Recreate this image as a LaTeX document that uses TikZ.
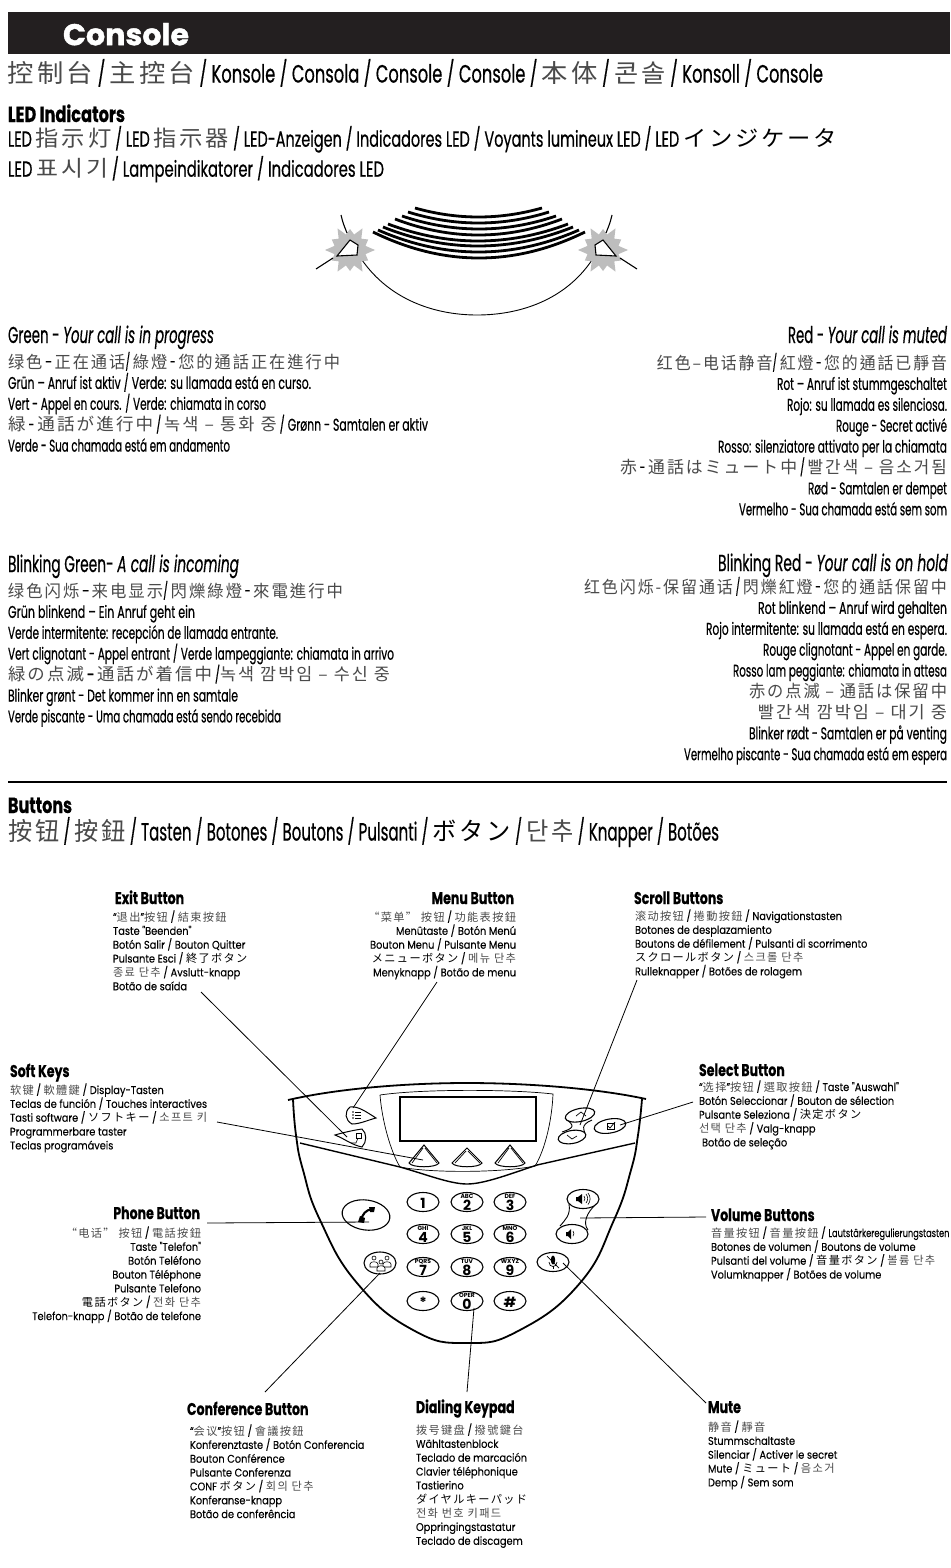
\documentclass[tikz,border=0pt]{standalone}
\usepackage{fontspec}
\usepackage{graphicx}
\usetikzlibrary{shapes.geometric}
\setmainfont{Poppins}
\newfontfamily\cond[FakeStretch=0.62,FakeBold=0.45]{Poppins}
\newfontfamily\hdf[FakeStretch=0.74,FakeBold=0.5]{Poppins}
\newfontfamily\labf[FakeStretch=0.875,FakeBold=0.12]{Poppins}
\newfontfamily\consf[FakeStretch=0.92,FakeBold=1.2]{Poppins}
\newfontfamily\zsf[LetterSpace=12]{Noto Sans CJK SC}
\newfontfamily\ztf[LetterSpace=12]{Noto Sans CJK TC}
\newfontfamily\jaf[LetterSpace=12]{Noto Sans CJK JP}
\newfontfamily\kof[LetterSpace=12]{Noto Sans CJK KR}
\definecolor{cjkgray}{HTML}{4A4A4A}
\definecolor{burst}{HTML}{BDBDBD}
\definecolor{barblack}{HTML}{231F20}
\newcommand\zs[1]{{\color{cjkgray}\zsf #1}}
\newcommand\zt[1]{{\color{cjkgray}\ztf #1}}
\newcommand\ja[1]{{\color{cjkgray}\jaf #1}}
\newcommand\jb[1]{{\jaf #1}}
\newcommand\ko[1]{{\color{cjkgray}\kof #1}}
\newcommand\fw[2]{\resizebox{#1pt}{\height}{#2}}
\newcommand\st{\rule{0pt}{20pt}}
\AtBeginDocument{\lineskiplimit=-40pt\relax}
\tikzset{
 x=1pt,y=-1pt,
 blk/.style={inner sep=0pt,outer sep=0pt,align=left,anchor=north west,yshift=20pt,text=black},
 blr/.style={blk,align=right,anchor=north east},
 big/.style={font=\cond\fontsize{17}{20.9}\selectfont},
 ttl/.style={font=\cond\fontsize{23}{26}\selectfont},
 top/.style={font=\cond\fontsize{25}{29}\selectfont},
 hd/.style={font=\hdf\bfseries\fontsize{17}{20}\selectfont},
 lab/.style={font=\labf\fontsize{11.2}{13.85}\selectfont},
 btn/.style={draw,ellipse,fill=white,line width=1.1pt,inner sep=0pt,minimum width=32pt,minimum height=19pt},
 keyt/.style={inner sep=0pt,align=center,font=\bfseries},
 conn/.style={draw,line width=0.8pt},
 body/.style={line width=1.8pt},
 thin1/.style={line width=0.7pt},
 spk/.style={line width=2.8pt},
}
\begin{document}
\begin{tikzpicture}
\useasboundingbox (0,0) rectangle (950,1568);
\fill[white] (0,0) rectangle (950,1568);
% header
\node[draw=none,fill=barblack,minimum width=942pt,minimum height=42pt,inner sep=0pt,anchor=north west] (bar) at (8,12) {};
\node[blk,text=white,font=\consf\bfseries\fontsize{30}{30}\selectfont] (cons) at (63,43) {\st\fw{126}{Console}};
\node[blk,top] (t1) at (8,79) {\st\fw{815}{\zs{控制台} / \zt{主控台} / Konsole / Consola / Console / Console / \ja{本体} / \ko{콘솔} / Konsoll / Console}};
\node[blk,font=\hdf\bfseries\fontsize{22}{24}\selectfont] (t2) at (8,122) {\st\fw{117}{LED Indicators}};
\node[blk,font=\cond\fontsize{22}{30}\selectfont] (t3) at (8,146) {\st\fw{829}{LED \zs{指示灯} / LED \zt{指示器} / LED-Anzeigen / Indicadores LED / Voyants lumineux LED / LED \jb{インジケータ}}\\
\fw{376}{LED \ko{표시기} / Lampeindikatorer / Indicadores LED}};
% LED figure
\foreach \xa/\xb/\ya/\m in {415/542/208/217,408/549/212/223,402/556/216/229,395/562/219/235,388/568/224/241,383/573/227/246,378/579/230/252,373/585/232/258}{
 \draw[spk] (\xa,\ya) .. controls ({\xa+(\xb-\xa)/3},{\ya+(\m-\ya)*4/3}) and ({\xb-(\xb-\xa)/3},{\ya+(\m-\ya)*4/3}) .. (\xb,\ya);
}
\draw[line width=0.9pt] (362,260) .. controls (390,300) and (435,315) .. (477,315) .. controls (520,315) and (565,300) .. (592,260);
\foreach \c/\s in {350/1,603/-1}{
 \begin{scope}[shift={(\c,250)}]
 \fill[burst] (0:25) \foreach \a in {1,...,23}{ -- ({\a*15}:{mod(\a,2)==1 ? 16 : ((mod(\a,4)==0) ? 25 : 21)}) } -- cycle;
 \draw[line width=1.1pt] ({\s*(-9)},-35) .. controls ({\s*(-7)},-27) .. ({\s*(-3)},-17);
 \draw[line width=1.1pt] ({\s*(-34)},19) -- ({\s*(-17)},8);
 \draw[line width=1.1pt,fill=white] ({\s*0},-10) -- ({\s*8},-5) -- ({\s*7},5) -- ({\s*(-13)},6) -- cycle;
 \end{scope}
}
% status blocks
\node[blk,ttl] (gt) at (8,343) {\st\fw{206}{Green - \itshape Your call is in progress}};
\node[blk,big] (gb) at (8,368) {\st\fw{332}{\zs{绿色} – \zs{正在通话}/ \zt{綠燈} - \zt{您的通話正在進行中}}\\
\fw{303}{Grün – Anruf ist aktiv / Verde: su llamada está en curso.}\\
\fw{258}{Vert - Appel en cours. / Verde: chiamata in corso}\\
\fw{420}{\ja{緑} - \ja{通話が進行中} / \ko{녹색 – 통화 중} / Grønn - Samtalen er aktiv}\\
\fw{222}{Verde - Sua chamada está em andamento}};
\node[blr,ttl] (rt) at (947,343) {\st\fw{159}{Red - \itshape Your call is muted}};
\node[blr,big] (rb) at (947,369) {\st\fw{290}{\zs{红色–电话静音}/ \zt{紅燈} - \zt{您的通話已靜音}}\\
\fw{170}{Rot – Anruf ist stummgeschaltet}\\
\fw{160}{Rojo: su llamada es silenciosa.}\\
\fw{111}{Rouge - Secret activé}\\
\fw{229}{Rosso: silenziatore attivato per la chiamata}\\
\fw{327}{\ja{赤} - \ja{通話はミュート中} / \ko{빨간색 – 음소거됨}}\\
\fw{139}{Rød - Samtalen er dempet}\\
\fw{208}{Vermelho - Sua chamada está sem som}};
\node[blk,ttl] (bgt) at (8,572) {\st\fw{231}{Blinking Green- \itshape A call is incoming}};
\node[blk,big] (bgb) at (8,597) {\st\fw{335}{\zs{绿色闪烁} – \zs{来电显示}/ \zt{閃爍綠燈} - \zt{來電進行中}}\\
\fw{187}{Grün blinkend – Ein Anruf geht ein}\\
\fw{270}{Verde intermitente: recepción de llamada entrante.}\\
\fw{386}{Vert clignotant - Appel entrant / Verde lampeggiante: chiamata in arrivo}\\
\fw{382}{\ja{緑の点滅} – \ja{通話が着信中} /\ko{녹색 깜박임 – 수신 중}}\\
\fw{230}{Blinker grønt - Det kommer inn en samtale}\\
\fw{273}{Verde piscante - Uma chamada está sendo recebida}};
\node[blr,ttl] (brt) at (948,571) {\st\fw{230}{Blinking Red - \itshape Your call is on hold}};
\node[blr,big] (brb) at (947,593) {\st\fw{363}{\zs{红色闪烁-保留通话} / \zt{閃爍紅燈} - \zt{您的通話保留中}}\\
\fw{189}{Rot blinkend – Anruf wird gehalten}\\
\fw{241}{Rojo intermitente: su llamada está en espera.}\\
\fw{184}{Rouge clignotant - Appel en garde.}\\
\fw{214}{Rosso lam peggiante: chiamata in attesa}\\
\fw{198}{\ja{赤の点滅 – 通話は保留中}}\\
\fw{189}{\ko{빨간색 깜박임 – 대기 중}}\\
\fw{198}{Blinker rødt - Samtalen er på venting}\\
\fw{263}{Vermelho piscante - Sua chamada está em espera}};
\coordinate (ruleL) at (8,782); \coordinate (ruleR) at (947,782);
\draw[line width=1.8pt] (ruleL) -- (ruleR);
\node[blk,font=\hdf\bfseries\fontsize{22}{24}\selectfont] (bh) at (8,813) {\st\fw{64}{Buttons}};
\node[blk,top] (bl) at (8,837) {\st\fw{711}{\zs{按钮} / \zt{按鈕} / Tasten / Botones / Boutons / Pulsanti / \jb{ボタン} / \ko{단추} / Knapper / Botões}};
% phone body
\draw[body] (288,1100) .. controls (340,1088) and (410,1083) .. (467,1083) .. controls (525,1083) and (595,1088) .. (646,1099);
\draw[body] plot[smooth,tension=0.8] coordinates {(293,1099) (296,1135) (303,1170) (320,1220) (357,1283) (413,1330) (467,1343) (520,1330) (580,1283) (614,1220) (631,1170) (638,1135) (642,1099)};
\draw[line width=1.4pt] (300,1143) -- (400,1167) .. controls (425,1174) and (450,1184) .. (467,1184) .. controls (484,1184) and (510,1174) .. (537,1165) -- (635,1143);
\draw[thin1] (380,1095) .. controls (420,1089) and (510,1089) .. (553,1094) .. controls (552,1120) and (545,1150) .. (535,1166) .. controls (500,1173) and (430,1173) .. (400,1167) .. controls (390,1150) and (382,1120) .. (380,1095);
\node[draw,line width=1.5pt,minimum width=136pt,minimum height=44pt,inner sep=0pt,anchor=north west] (screen) at (399,1096) {};
\foreach \n/\x/\d in {a/424/0,b/467/3,c/510/0}{
 \draw[line width=1pt] (\x,1145+\d) -- ({\x+15},1163) .. controls ({\x+12},1168) and ({\x-12},1168) .. ({\x-15},1163) -- cycle;
 \draw[thin1] (\x+1,1148+\d) -- ({\x+13},1163);
 \draw[thin1] (\x-1,1148+\d) -- ({\x-12},1163);
}
% menu and exit
\draw[line width=1pt,fill=white] (376,1118) .. controls (365,1111) and (358,1106) .. (350,1107) .. controls (344,1112) and (345,1120) .. (352,1124) .. controls (360,1124) and (368,1120) .. (376,1118) -- cycle;
\foreach \yy in {1112,1115,1118}{\draw[line width=0.6pt] (355,\yy) -- (361,\yy);\fill (353,\yy) circle (0.9pt);}
\draw[line width=1pt,fill=white] (335,1135) .. controls (345,1132) and (355,1130) .. (362,1129) .. controls (367,1133) and (367,1142) .. (362,1147) .. controls (352,1145) and (345,1139) .. (335,1135) -- cycle;
\draw[line width=0.6pt] (356,1133) rectangle (361,1138);
\draw[line width=0.6pt] (351,1143) -- (356,1143) -- (358,1138);
% scroll & select
\draw[line width=0.9pt] (566,1119) .. controls (575,1126) and (574,1128) .. (562,1132);
\draw[line width=0.9pt] (592,1120) .. controls (580,1125) and (584,1130) .. (585,1133);
\node[btn,minimum width=30pt,minimum height=13pt,rotate=12] (sup) at (580,1115) {};
\node[btn,minimum width=28pt,minimum height=13pt,rotate=10] (sdn) at (572,1137) {};
\draw[thin1] (576,1116) -- (581,1112) -- (586,1116);
\draw[thin1] (567,1135) -- (572,1139) -- (577,1136);
\node[btn,minimum width=32pt,minimum height=14pt,rotate=10] (sel) at (610,1126) {};
\draw[line width=0.6pt] (607,1123) rectangle (614,1129);
\draw[line width=0.7pt] (608,1126) -- (610,1128) -- (615,1122);
% keypad
\foreach \n/\x/\y/\l/\d in {2/467/1202/ABC/2,3/510/1202/DEF/3,4/423/1234/GHI/4,5/467/1234/JKL/5,6/510/1234/MNO/6,7/423/1267/PQRS/7,8/467/1267/TUV/8,9/510/1267/WXYZ/9,0/467/1301/OPER/0}{
 \node[btn] (key\n) at (\x,\y) {};
 \node[keyt] (kt\n) at (\x,\y) {{\fontsize{6}{5.5}\selectfont \l}\\{\fontsize{14}{11}\selectfont \d}};
}
\foreach \n/\x/\y/\d in {1/423/1202/1,s/423/1301/*,h/510/1301/\#}{
 \node[btn] (key\n) at (\x,\y) {};
 \node[keyt] (kt\n) at (\x,\y+1) {\fontsize{14}{14}\selectfont \d};
}
% phone button
\node[btn,minimum width=48pt,minimum height=30pt,rotate=-8] (phone) at (366,1215) {};
\draw[line width=2.1pt,line cap=round] (361,1221) .. controls (362,1214) and (366,1210) .. (372,1209);
\fill (358,1222) -- (364,1223) -- (365,1218) -- (360,1216) -- cycle;
\fill (369,1207) -- (375,1207) -- (374,1212) -- (370,1212) -- cycle;
% conference
\node[btn,minimum width=32pt,minimum height=22pt] (conf) at (380,1263) {};
\foreach \p/\q in {374/1258,387/1258,381/1262}{
 \draw[line width=0.6pt,fill=white] (\p-4,\q+9) -- (\p-4,\q+6) .. controls (\p-4,\q+3) and (\p+4,\q+3) .. (\p+4,\q+6) -- (\p+4,\q+9) -- cycle;
 \draw[line width=0.6pt,fill=white] (\p,\q) circle (2pt);
}
% volume
\draw[line width=0.9pt] (569,1204) .. controls (571,1215) and (565,1220) .. (560,1226);
\draw[line width=0.9pt] (595,1205) .. controls (588,1212) and (582,1222) .. (588,1230);
\node[btn] (vup) at (583,1199) {};
\node[btn] (vdn) at (572,1234) {};
\fill (576,1197) -- (578,1197) -- (582,1194) -- (582,1204) -- (578,1201) -- (576,1201) -- cycle;
\draw[line width=0.6pt] (584,1196) arc (-40:40:4);
\draw[line width=0.6pt] (586,1194) arc (-40:40:7);
\draw[line width=0.6pt] (588,1193) arc (-40:40:9);
\fill (566,1232) -- (568,1232) -- (571,1229) -- (571,1239) -- (568,1236) -- (566,1236) -- cycle;
\draw[line width=0.6pt] (573,1231) arc (-40:40:4);
% mute
\node[btn] (mute) at (553,1262) {};
\fill (553,1260) ellipse (2.2pt and 4.5pt);
\draw[line width=0.7pt] (549,1262) .. controls (549,1268) and (557,1268) .. (557,1262);
\draw[line width=0.7pt] (553,1266) -- (553,1269);
\draw[line width=0.7pt] (547,1256) -- (559,1268);
% labels
\node[blk,hd] (h1) at (115,904) {\st Exit Button};
\node[blk,lab] (l1) at (113,921) {\st“\zs{退出}”\zs{按钮} / \zt{結束按鈕}\\Taste "Beenden"\\Botón Salir / Bouton Quitter\\Pulsante Esci / \jb{終了ボタン}\\\ko{종료 단추} / Avslutt-knapp\\Botão de saída};
\node[blr,hd] (h2) at (514,904) {\st Menu Button};
\node[blr,lab] (l2) at (516,921) {\st\zs{“菜单” 按钮} / \zt{功能表按鈕}\\Menütaste / Botón Menú\\Bouton Menu / Pulsante Menu\\\jb{メニューボタン} / \ko{메뉴 단추}\\Menyknapp / Botão de menu};
\node[blk,hd] (h3) at (634,904) {\st Scroll Buttons};
\node[blk,lab] (l3) at (635,920) {\st\zs{滚动按钮} / \zt{捲動按鈕} / Navigationstasten\\Botones de desplazamiento\\Boutons de défilement / Pulsanti di scorrimento\\\jb{スクロールボタン} / \ko{스크롤 단추}\\Rulleknapper / Botões de rolagem};
\node[blk,hd] (h4) at (10,1077) {\st Soft Keys};
\node[blk,lab] (l4) at (10,1094) {\st\zs{软键} / \zt{軟體鍵} / Display-Tasten\\Teclas de función / Touches interactives\\Tasti software / \jb{ソフトキー} / \ko{소프트 키}\\Programmerbare taster\\Teclas programáveis};
\node[blk,hd] (h5) at (699,1076) {\st Select Button};
\node[blk,lab] (l5) at (699,1091) {\st“\zs{选择}”\zs{按钮} / \zt{選取按鈕} / Taste "Auswahl"\\Botón Seleccionar / Bouton de sélection\\Pulsante Seleziona / \jb{決定ボタン}\\\ko{선택 단추} / Valg-knapp\\\hspace{3pt}Botão de seleção};
\node[blr,hd] (h6) at (200,1219) {\st Phone Button};
\node[blr,lab] (l6) at (201,1237) {\st\zs{“电话” 按钮} / \zt{電話按鈕}\\Taste "Telefon"\\Botón Teléfono\\Bouton Téléphone\\Pulsante Telefono\\\jb{電話ボタン} / \ko{전화 단추}\\Telefon-knapp / Botão de telefone};
\node[blk,hd] (h7) at (711,1221) {\st Volume Buttons};
\node[blk,lab] (l7) at (711,1237) {\st\zs{音量按钮} / \zt{音量按鈕} / \fw{121}{Lautstärkeregulierungstasten}\\Botones de volumen / Boutons de volume\\Pulsanti del volume / \jb{音量ボタン} / \ko{볼륨 단추}\\Volumknapper / Botões de volume};
\node[blk,hd] (h8) at (187,1415) {\st Conference Button};
\node[blk,lab] (l8) at (190,1435) {\st“\zs{会议}”\zs{按钮} / \zt{會議按鈕}\\Konferenztaste / Botón Conferencia\\Bouton Conférence\\Pulsante Conferenza\\CONF \jb{ボタン} / \ko{회의 단추}\\Konferanse-knapp\\Botão de conferência};
\node[blk,hd] (h9) at (416,1413) {\st Dialing Keypad};
\node[blk,lab] (l9) at (416,1434) {\st\zs{拨号键盘} / \zt{撥號鍵台}\\Wähltastenblock\\Teclado de marcación\\Clavier téléphonique\\Tastierino\\\jb{ダイヤルキーパッド}\\\ko{전화 번호 키패드}\\Oppringingstastatur\\Teclado de discagem};
\node[blk,hd] (h10) at (708,1413) {\st Mute};
\node[blk,lab] (l10) at (708,1431) {\st\zs{静音} / \zt{靜音}\\Stummschaltaste\\Silenciar / Activer le secret\\Mute / \jb{ミュート} / \ko{음소거}\\Demp / Sem som};
% connectors
\coordinate (cExit) at (201,992); \coordinate (tExit) at (347,1137);
\coordinate (cMenu) at (437,982); \coordinate (tMenu) at (353,1108);
\coordinate (cSoft) at (217,1122); \coordinate (tSoft) at (423,1160);
\coordinate (cScroll) at (637,980); \coordinate (tScroll) at (580,1125);
\coordinate (cSel) at (693,1102); \coordinate (tSel) at (620,1125);
\coordinate (cPh) at (207,1223); \coordinate (tPh) at (369,1222);
\coordinate (cVol) at (706,1217); \coordinate (tVol) at (580,1218);
\coordinate (cConf) at (265,1392); \coordinate (tConf) at (380,1273);
\coordinate (cDial) at (467,1392); \coordinate (tDial) at (474,1308);
\coordinate (cMute) at (706,1403); \coordinate (tMute) at (563,1263);
\foreach \a/\b in {cExit/tExit,cMenu/tMenu,cSoft/tSoft,cScroll/tScroll,cSel/tSel,cPh/tPh,cVol/tVol,cConf/tConf,cDial/tDial,cMute/tMute}{
 \draw[conn] (\a) -- (\b);
}
\end{tikzpicture}
\end{document}
